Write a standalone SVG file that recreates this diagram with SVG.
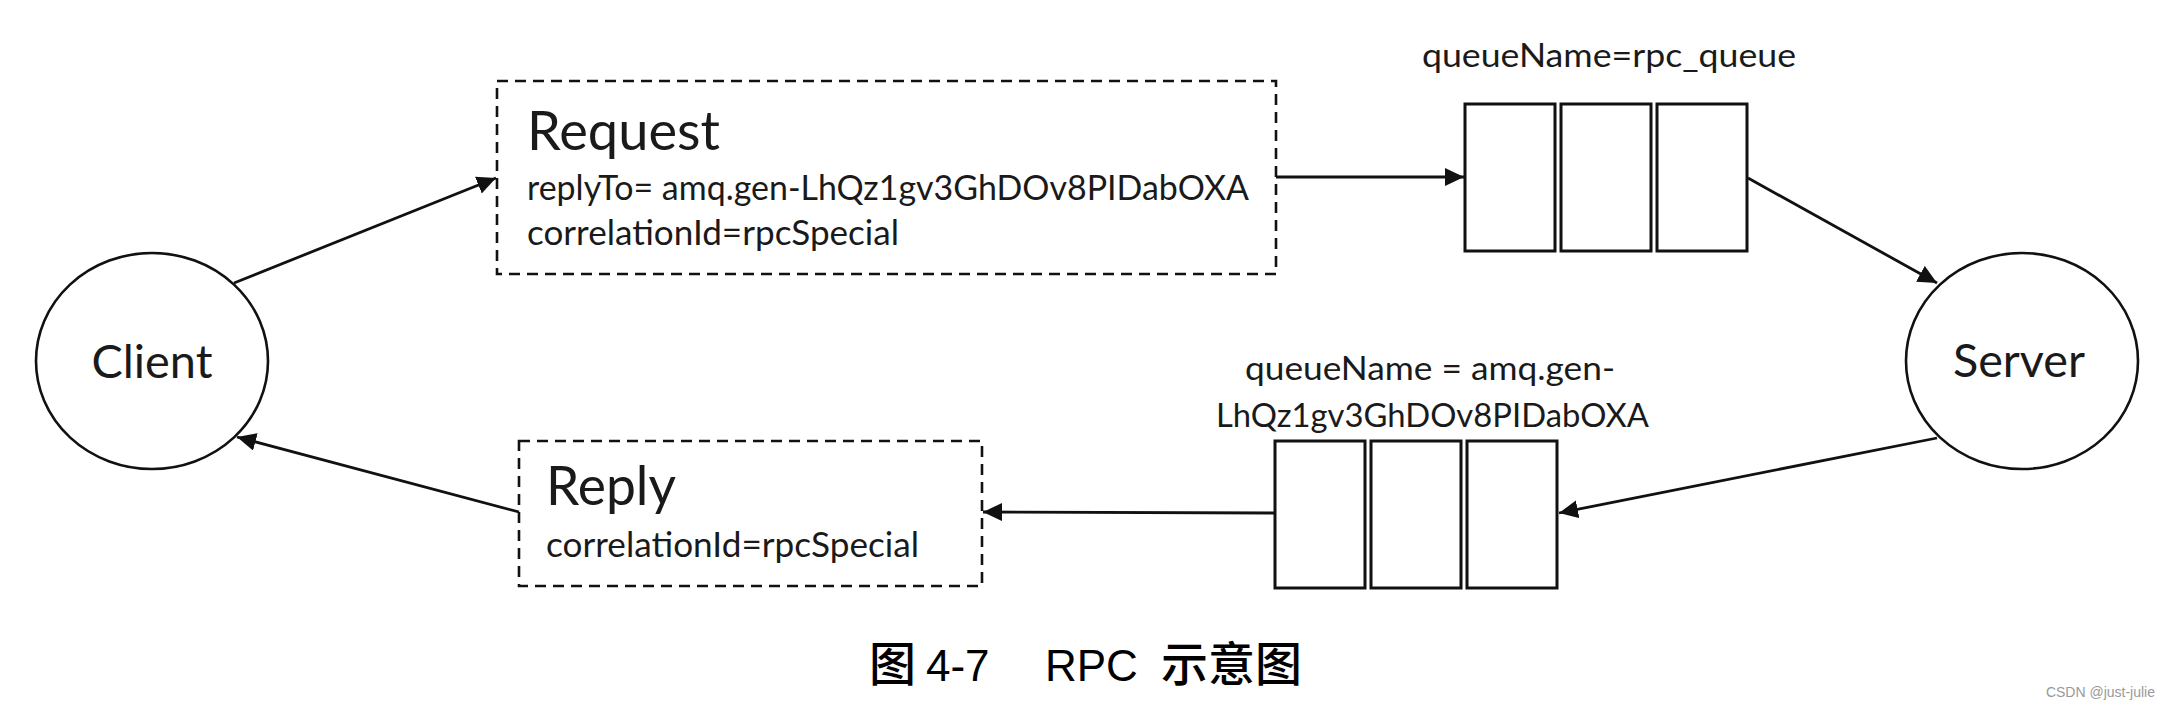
<svg xmlns="http://www.w3.org/2000/svg" width="2172" height="712" viewBox="0 0 2172 712">
<style>
.node{fill:#fff;stroke:#111;stroke-width:2.6}
.dash{fill:none;stroke:#111;stroke-width:2.6;stroke-dasharray:11 7}
.cell{fill:#fff;stroke:#111;stroke-width:3}
.t{font-family:Lato,"Liberation Sans",sans-serif;fill:#1a1a1a}
.conn line{stroke:#111;stroke-width:2.8;fill:none;marker-end:url(#ah)}
.cap{font-family:"Liberation Sans","Noto Sans CJK SC",sans-serif;fill:#000;font-size:44px}
.cjk{font-family:"Noto Sans CJK SC",sans-serif;font-size:47px;font-weight:500}
</style>
<defs>
<marker id="ah" markerUnits="userSpaceOnUse" markerWidth="22" markerHeight="20" refX="19" refY="9" orient="auto">
<path d="M0,0 L19,9 L0,18 Z" fill="#111"/>
</marker>
</defs>
<rect width="2172" height="712" fill="#fff"/>

<g id="client">
<ellipse class="node" cx="152" cy="361" rx="116" ry="108"/>
<text class="t" x="152" y="378" font-size="46" text-anchor="middle" textLength="121" lengthAdjust="spacingAndGlyphs">Client</text>
</g>

<g id="server">
<ellipse class="node" cx="2022" cy="361" rx="116" ry="108"/>
<text class="t" x="2019" y="377" font-size="46" text-anchor="middle" textLength="132" lengthAdjust="spacingAndGlyphs">Server</text>
</g>

<g id="request">
<rect class="dash" x="497" y="81" width="779" height="193"/>
<text class="t" x="527" y="150" font-size="54" textLength="193" lengthAdjust="spacingAndGlyphs">Request</text>
<text class="t" x="527" y="200" font-size="35" textLength="722" lengthAdjust="spacingAndGlyphs">replyTo= amq.gen-LhQz1gv3GhDOv8PIDabOXA</text>
<text class="t" x="527" y="245" font-size="35" textLength="372" lengthAdjust="spacingAndGlyphs">correlationId=rpcSpecial</text>
</g>

<g id="reply">
<rect class="dash" x="519" y="441" width="463" height="145"/>
<text class="t" x="546" y="505" font-size="54" textLength="130" lengthAdjust="spacingAndGlyphs">Reply</text>
<text class="t" x="546" y="557" font-size="35" textLength="373" lengthAdjust="spacingAndGlyphs">correlationId=rpcSpecial</text>
</g>

<g id="rpc_queue">
<text class="t" x="1422" y="67" font-size="33" textLength="374" lengthAdjust="spacingAndGlyphs">queueName=rpc_queue</text>
<rect class="cell" x="1465" y="104" width="90" height="147"/>
<rect class="cell" x="1561" y="104" width="90" height="147"/>
<rect class="cell" x="1657" y="104" width="90" height="147"/>
</g>

<g id="reply_queue">
<text class="t" x="1245" y="380" font-size="33" textLength="370" lengthAdjust="spacingAndGlyphs">queueName = amq.gen-</text>
<text class="t" x="1216" y="427" font-size="33" textLength="433" lengthAdjust="spacingAndGlyphs">LhQz1gv3GhDOv8PIDabOXA</text>
<rect class="cell" x="1275" y="441" width="90" height="147"/>
<rect class="cell" x="1371" y="441" width="90" height="147"/>
<rect class="cell" x="1467" y="441" width="90" height="147"/>
</g>

<g id="connectors" class="conn">
<line x1="234" y1="283" x2="496" y2="178"/>
<line x1="1276" y1="177" x2="1464" y2="177"/>
<line x1="1748" y1="178" x2="1937" y2="283"/>
<line x1="1937" y1="438" x2="1559" y2="513"/>
<line x1="1275" y1="513" x2="983" y2="512"/>
<line x1="519" y1="512" x2="237" y2="437"/>
</g>

<g id="caption">
<text class="cap" y="681"><tspan class="cjk" x="869">图</tspan><tspan x="926">4-7</tspan><tspan x="1045">RPC</tspan><tspan class="cjk" x="1161">示意图</tspan></text>
</g>

<text x="2155" y="697" font-family="'Liberation Sans',Arial,sans-serif" font-size="14" fill="#999" text-anchor="end">CSDN @just-julie</text>
</svg>
